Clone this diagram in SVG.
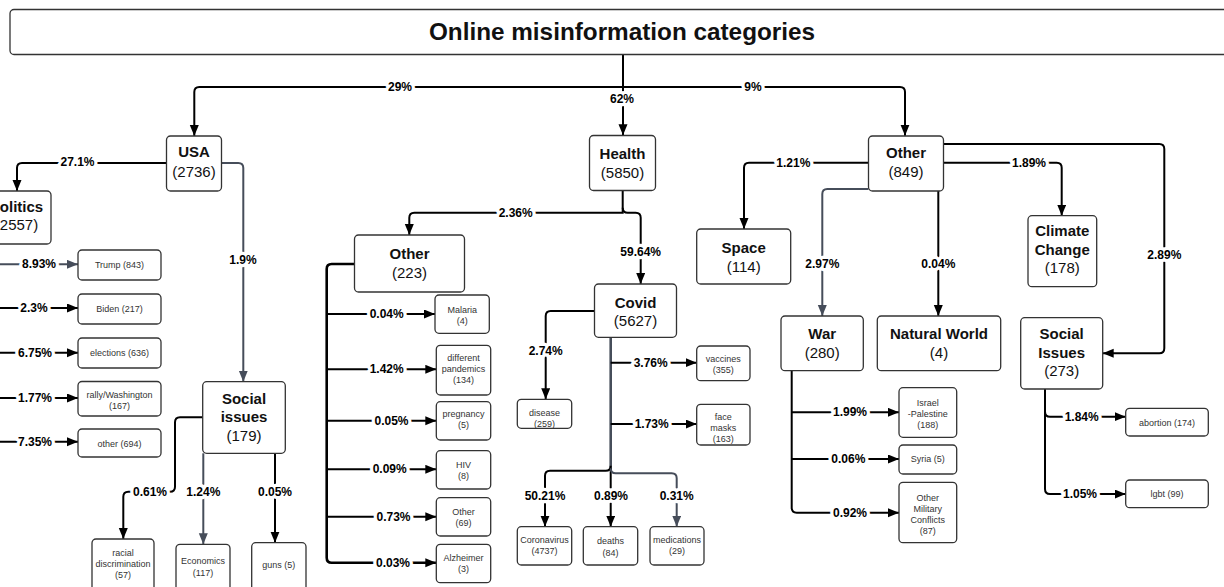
<svg xmlns="http://www.w3.org/2000/svg" width="1224" height="587" viewBox="0 0 1224 587">
<style>
.bx{fill:#fff;stroke:#333;stroke-width:1.3}
.t{font-family:"Liberation Sans",Arial,sans-serif;fill:#111;text-anchor:middle}
.h{font-size:15px;font-weight:bold}
.n{font-size:15px}
.s{font-size:9px;fill:#333}
.c{fill:none;stroke:#000;stroke-width:2}
.g{stroke:#464d5a}
.k{stroke-width:2.6}
.l{font-family:"Liberation Sans",Arial,sans-serif;font-size:12px;font-weight:bold;text-anchor:middle;fill:#000;stroke:#fff;stroke-width:6.5;paint-order:stroke;stroke-linejoin:round}
</style>
<defs>
<marker id="a" markerUnits="userSpaceOnUse" markerWidth="12" markerHeight="10" refX="11" refY="4.5" orient="auto"><path d="M0,0L11,4.5L0,9z" fill="#000"/></marker>
<marker id="ag" markerUnits="userSpaceOnUse" markerWidth="12" markerHeight="10" refX="11" refY="4.5" orient="auto"><path d="M0,0L11,4.5L0,9z" fill="#464d5a"/></marker>
</defs>
<rect width="1224" height="587" fill="#fff"/>

<g id="connectors">
<path class="c" d="M623,55V135.3" marker-end="url(#a)"/>
<path class="c" d="M623,87H199.3q-5,0-5,5V136" marker-end="url(#a)"/>
<path class="c" d="M623,87H900q5,0 5,5V135.7" marker-end="url(#a)"/>
<path class="c" d="M166.5,163H22q-5,0-5,5V191" marker-end="url(#a)"/>
<path class="c g" d="M221.5,163H238.3q5,0 5,5V381.7" marker-end="url(#ag)"/>
<path class="c g" d="M-10,264.3H78" marker-end="url(#ag)"/>
<path class="c" d="M-10,308H78" marker-end="url(#a)"/>
<path class="c" d="M-10,352.7H78" marker-end="url(#a)"/>
<path class="c" d="M-10,398H78" marker-end="url(#a)"/>
<path class="c" d="M-10,441.7H78" marker-end="url(#a)"/>
<path class="c" d="M202.7,417.3H180q-5,0-5,5V486.7q0,5-5,5H128.3q-5,0-5,5V539" marker-end="url(#a)"/>
<path class="c g" d="M203.3,453.3V544.3" marker-end="url(#ag)"/>
<path class="c" d="M275,453.3V542.7" marker-end="url(#a)"/>
<path class="c" d="M622.7,190.7V212.7H414.3q-5,0-5,5V235" marker-end="url(#a)"/>
<path class="c" d="M622.7,207.7q0,5 5,5H635.7q5,0 5,5V284" marker-end="url(#a)"/>
<path class="c k" d="M354.5,264H331.7q-5,0-5,5V557.7q0,5 5,5H436.3" marker-end="url(#a)"/>
<path class="c" d="M326.7,314H435" marker-end="url(#a)"/>
<path class="c" d="M326.7,369.3H436.3" marker-end="url(#a)"/>
<path class="c" d="M326.7,420.7H436.3" marker-end="url(#a)"/>
<path class="c" d="M326.7,469.3H436.3" marker-end="url(#a)"/>
<path class="c" d="M326.7,516.7H436.3" marker-end="url(#a)"/>
<path class="c" d="M594.5,311H550.7q-5,0-5,5V399.3" marker-end="url(#a)"/>
<path class="c g k" d="M610.7,337.3V470.7"/>
<path class="c" d="M610.7,362.7H696.7" marker-end="url(#a)"/>
<path class="c" d="M610.7,424H696.7" marker-end="url(#a)"/>
<path class="c" d="M610.7,465.7q0,5-5,5H550q-5,0-5,5V526.7" marker-end="url(#a)"/>
<path class="c" d="M610.7,468V526.7" marker-end="url(#a)"/>
<path class="c g" d="M610.7,468.3q0,5 5,5H671.7q5,0 5,5V526.7" marker-end="url(#ag)"/>
<path class="c" d="M868.5,162.7H749q-5,0-5,5V229" marker-end="url(#a)"/>
<path class="c g" d="M868.5,189H827.3q-5,0-5,5V316" marker-end="url(#ag)"/>
<path class="c" d="M938.3,190.7V316" marker-end="url(#a)"/>
<path class="c" d="M943.3,162.7H1056.7q5,0 5,5V215.7" marker-end="url(#a)"/>
<path class="c" d="M943.3,144H1159.3q5,0 5,5V348.3q0,5-5,5H1102.7" marker-end="url(#a)"/>
<path class="c" d="M791.7,370.7V507.7q0,5 5,5H899" marker-end="url(#a)"/>
<path class="c" d="M791.7,412.3H899" marker-end="url(#a)"/>
<path class="c" d="M791.7,459H899" marker-end="url(#a)"/>
<path class="c" d="M1045,389V489q0,5 5,5H1125.7" marker-end="url(#a)"/>
<path class="c" d="M1045,411.7q0,5 5,5H1125.7" marker-end="url(#a)"/>
<text class="l" x="400" y="90.5">29%</text>
<text class="l" x="622" y="103">62%</text>
<text class="l" x="753" y="90.5">9%</text>
<text class="l" x="77.5" y="166">27.1%</text>
<text class="l" x="243" y="264">1.9%</text>
<text class="l" x="39" y="268.3">8.93%</text>
<text class="l" x="34" y="312">2.3%</text>
<text class="l" x="35" y="356.7">6.75%</text>
<text class="l" x="35" y="402">1.77%</text>
<text class="l" x="35" y="445.7">7.35%</text>
<text class="l" x="150" y="495.7">0.61%</text>
<text class="l" x="203.3" y="495.7">1.24%</text>
<text class="l" x="275" y="495.7">0.05%</text>
<text class="l" x="515.7" y="216.7">2.36%</text>
<text class="l" x="640.7" y="255.7">59.64%</text>
<text class="l" x="386.7" y="318">0.04%</text>
<text class="l" x="386.7" y="373.3">1.42%</text>
<text class="l" x="391.5" y="424.7">0.05%</text>
<text class="l" x="389.7" y="473.3">0.09%</text>
<text class="l" x="393.5" y="520.7">0.73%</text>
<text class="l" x="393" y="566.7">0.03%</text>
<text class="l" x="545.7" y="354.7">2.74%</text>
<text class="l" x="650.7" y="366.7">3.76%</text>
<text class="l" x="651.7" y="428">1.73%</text>
<text class="l" x="545" y="500">50.21%</text>
<text class="l" x="611" y="500">0.89%</text>
<text class="l" x="676.7" y="500">0.31%</text>
<text class="l" x="793.3" y="166.7">1.21%</text>
<text class="l" x="822.3" y="268">2.97%</text>
<text class="l" x="938.3" y="268">0.04%</text>
<text class="l" x="1029" y="166.7">1.89%</text>
<text class="l" x="1164.3" y="259">2.89%</text>
<text class="l" x="850" y="416.3">1.99%</text>
<text class="l" x="848.3" y="463">0.06%</text>
<text class="l" x="850" y="516.7">0.92%</text>
<text class="l" x="1081.7" y="420.7">1.84%</text>
<text class="l" x="1080" y="498">1.05%</text>
</g>

<g id="title"><rect class="bx" x="10" y="9.5" width="1230" height="45" rx="4"/><text class="t" x="622" y="39.5" font-size="24.3" font-weight="bold">Online misinformation categories</text></g>

<g id="usa"><rect class="bx" x="166.5" y="136" width="55" height="55" rx="4"/><text class="t h" x="194" y="157">USA</text><text class="t n" x="194" y="176.5">(2736)</text></g>
<g id="politics"><rect class="bx" x="-18" y="191" width="69" height="53" rx="4"/><text class="t h" x="16.5" y="211.5">Politics</text><text class="t n" x="16.5" y="229.5">(2557)</text></g>
<g id="trump"><rect class="bx" x="78" y="250" width="83" height="30" rx="4"/><text class="t s" x="119.5" y="268">Trump (843)</text></g>
<g id="biden"><rect class="bx" x="78" y="294" width="83" height="30" rx="4"/><text class="t s" x="119.5" y="312">Biden (217)</text></g>
<g id="elections"><rect class="bx" x="78" y="338" width="83" height="30" rx="4"/><text class="t s" x="119.5" y="356">elections (636)</text></g>
<g id="rally"><rect class="bx" x="78" y="381.5" width="83" height="34.5" rx="4"/><text class="t s" x="119.5" y="397.5">rally/Washington</text><text class="t s" x="119.5" y="409">(167)</text></g>
<g id="pol-other"><rect class="bx" x="78" y="429" width="83" height="28" rx="4"/><text class="t s" x="119.5" y="446.5">other (694)</text></g>

<g id="usa-social"><rect class="bx" x="202.7" y="381.7" width="82.6" height="71.6" rx="4"/><text class="t h" x="244" y="404">Social</text><text class="t h" x="244" y="422.3">issues</text><text class="t n" x="244" y="440.7">(179)</text></g>
<g id="racial"><rect class="bx" x="92" y="539" width="62" height="60" rx="4"/><text class="t s" x="123" y="556">racial</text><text class="t s" x="123" y="567">discrimination</text><text class="t s" x="123" y="578">(57)</text></g>
<g id="economics"><rect class="bx" x="176" y="544.3" width="54" height="50" rx="4"/><text class="t s" x="203" y="564">Economics</text><text class="t s" x="203" y="575.5">(117)</text></g>
<g id="guns"><rect class="bx" x="251.7" y="542.7" width="54.3" height="50" rx="4"/><text class="t s" x="278.8" y="568">guns (5)</text></g>

<g id="health"><rect class="bx" x="589.5" y="135.5" width="66" height="55" rx="4"/><text class="t h" x="622.5" y="159">Health</text><text class="t n" x="622.5" y="177.5">(5850)</text></g>
<g id="health-other"><rect class="bx" x="354.5" y="235" width="110" height="57" rx="4"/><text class="t h" x="409.5" y="259">Other</text><text class="t n" x="409.5" y="277.5">(223)</text></g>
<g id="malaria"><rect class="bx" x="435" y="295" width="54.3" height="38.3" rx="4"/><text class="t s" x="462.2" y="312.5">Malaria</text><text class="t s" x="462.2" y="324">(4)</text></g>
<g id="pandemics"><rect class="bx" x="436.3" y="345.3" width="54.4" height="49.7" rx="4"/><text class="t s" x="463.5" y="361">different</text><text class="t s" x="463.5" y="372">pandemics</text><text class="t s" x="463.5" y="383.3">(134)</text></g>
<g id="pregnancy"><rect class="bx" x="436.3" y="401.7" width="54.4" height="38.3" rx="4"/><text class="t s" x="463.5" y="417">pregnancy</text><text class="t s" x="463.5" y="428">(5)</text></g>
<g id="hiv"><rect class="bx" x="436.3" y="450.7" width="54.4" height="38.3" rx="4"/><text class="t s" x="463.5" y="467.5">HIV</text><text class="t s" x="463.5" y="479">(8)</text></g>
<g id="other69"><rect class="bx" x="436.3" y="497.7" width="54.4" height="38.3" rx="4"/><text class="t s" x="463.5" y="515">Other</text><text class="t s" x="463.5" y="526">(69)</text></g>
<g id="alzheimer"><rect class="bx" x="436.3" y="544.3" width="54.4" height="38.4" rx="4"/><text class="t s" x="463.5" y="560.5">Alzheimer</text><text class="t s" x="463.5" y="572">(3)</text></g>

<g id="covid"><rect class="bx" x="594.5" y="284" width="82" height="53.3" rx="4"/><text class="t h" x="635.5" y="307.5">Covid</text><text class="t n" x="635.5" y="326">(5627)</text></g>
<g id="disease"><rect class="bx" x="517.3" y="399.3" width="54.4" height="29" rx="4"/><text class="t s" x="544.5" y="415.5">disease</text><text class="t s" x="544.5" y="426.5">(259)</text></g>
<g id="vaccines"><rect class="bx" x="696.7" y="346" width="53.3" height="34.7" rx="4"/><text class="t s" x="723.3" y="361.5">vaccines</text><text class="t s" x="723.3" y="372.5">(355)</text></g>
<g id="masks"><rect class="bx" x="696.7" y="404.3" width="53.3" height="40.7" rx="4"/><text class="t s" x="723.3" y="420">face</text><text class="t s" x="723.3" y="431">masks</text><text class="t s" x="723.3" y="442">(163)</text></g>
<g id="coronavirus"><rect class="bx" x="517.3" y="526.7" width="54.4" height="38.3" rx="4"/><text class="t s" x="544.5" y="542.5">Coronavirus</text><text class="t s" x="544.5" y="554">(4737)</text></g>
<g id="deaths"><rect class="bx" x="583.3" y="526.7" width="54.4" height="38.3" rx="4"/><text class="t s" x="610.5" y="544">deaths</text><text class="t s" x="610.5" y="555.5">(84)</text></g>
<g id="medications"><rect class="bx" x="650" y="526.7" width="54" height="38.3" rx="4"/><text class="t s" x="677" y="542.5">medications</text><text class="t s" x="677" y="553.5">(29)</text></g>

<g id="other849"><rect class="bx" x="868.5" y="136" width="75" height="55" rx="4"/><text class="t h" x="906" y="158">Other</text><text class="t n" x="906" y="176.7">(849)</text></g>
<g id="space"><rect class="bx" x="696.7" y="229" width="94" height="55" rx="4"/><text class="t h" x="743.7" y="252.5">Space</text><text class="t n" x="743.7" y="271.7">(114)</text></g>
<g id="climate"><rect class="bx" x="1028" y="215.7" width="68.7" height="71" rx="4"/><text class="t h" x="1062.3" y="236">Climate</text><text class="t h" x="1062.3" y="254.7">Change</text><text class="t n" x="1062.3" y="272.7">(178)</text></g>
<g id="war"><rect class="bx" x="781" y="316" width="82.3" height="54.7" rx="4"/><text class="t h" x="822.2" y="339.3">War</text><text class="t n" x="822.2" y="358.3">(280)</text></g>
<g id="natural"><rect class="bx" x="877.3" y="316" width="123.4" height="54.7" rx="4"/><text class="t h" x="939" y="339.3">Natural World</text><text class="t n" x="939" y="358.3">(4)</text></g>
<g id="social273"><rect class="bx" x="1020.7" y="317.7" width="82" height="71.3" rx="4"/><text class="t h" x="1061.7" y="339.3">Social</text><text class="t h" x="1061.7" y="357.7">Issues</text><text class="t n" x="1061.7" y="375.7">(273)</text></g>
<g id="israel"><rect class="bx" x="899" y="387.7" width="57.7" height="49.6" rx="4"/><text class="t s" x="927.8" y="406">Israel</text><text class="t s" x="927.8" y="417">-Palestine</text><text class="t s" x="927.8" y="428">(188)</text></g>
<g id="syria"><rect class="bx" x="899" y="445" width="57.7" height="29" rx="4"/><text class="t s" x="927.8" y="462.2">Syria (5)</text></g>
<g id="omc"><rect class="bx" x="899" y="482.3" width="57.7" height="60.4" rx="4"/><text class="t s" x="927.8" y="501">Other</text><text class="t s" x="927.8" y="512">Military</text><text class="t s" x="927.8" y="523">Conflicts</text><text class="t s" x="927.8" y="534.3">(87)</text></g>
<g id="abortion"><rect class="bx" x="1125.7" y="408.3" width="82.6" height="27.7" rx="4"/><text class="t s" x="1167" y="425.5">abortion (174)</text></g>
<g id="lgbt"><rect class="bx" x="1125.7" y="480" width="82.6" height="27.7" rx="4"/><text class="t s" x="1167" y="497">lgbt (99)</text></g>
</svg>
